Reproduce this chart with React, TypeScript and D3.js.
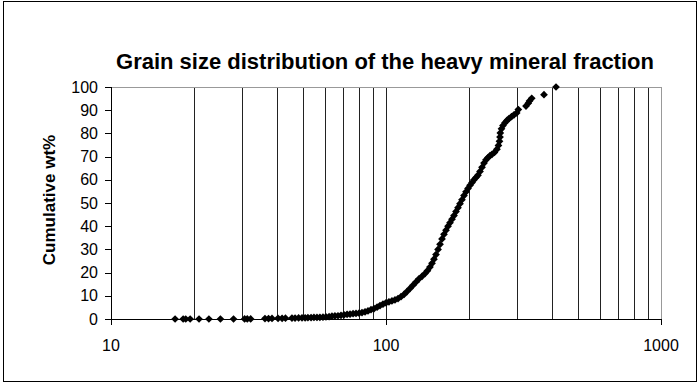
import React from "react";
import * as d3 from "d3";

const title = "Grain size distribution of the heavy mineral fraction";
const yTitle = "Cumulative wt%";
const xTickValues = [10, 100, 1000];
const xGridValues = [20, 30, 40, 50, 60, 70, 80, 90, 100, 200, 300, 400, 500, 600, 700, 800, 900];
const yTickValues = [0, 10, 20, 30, 40, 50, 60, 70, 80, 90, 100];

// grain size (µm)
const grainSize = [
  17.1, 18.3, 18.7, 19.4, 20.9, 22.7, 25.0, 27.9, 30.6, 31.3, 32.2,
  36.3, 37.4, 38.5, 40.5, 41.9, 43.1, 45.5, 46.7, 48.1, 49.5, 50.8, 52.0, 53.4, 54.7, 56.1,
  57.5, 59.0, 60.5, 62.1, 63.6, 65.2, 66.9, 68.6, 70.4, 72.2, 74.0, 75.9, 77.8, 79.8, 81.8,
  83.9, 86.0, 88.2, 90.5, 92.8, 95.1, 97.5, 100, 102.5, 105.1, 107.8, 110.6, 113.4, 116.3,
  119.2, 122.3, 125.4, 128.6, 131.8, 135.2, 138.6, 141.5, 144.5, 147.0, 149.4, 152.0, 154.6,
  157.2, 159.8, 162.5, 165.3, 168.1, 170.9, 173.8, 176.7, 179.7, 182.7, 185.8, 188.9, 192.1,
  195.4, 198.7, 202.1, 205.5, 208.9, 212.5, 216.0, 219.7, 223.4, 227.2, 231.0, 234.9, 238.9,
  242.9, 248.0, 253.2, 256.4, 258.6, 259.7, 260.4, 263.0, 266.3, 270.9, 275.4, 280.1, 286.0,
  292.1, 298.7, 302.8, 322.9, 329.2, 332.5, 338.8, 375.4, 415.2,
];
// cumulative weight percent
const cumulative = [
  0, 0, 0, 0, 0, 0, 0, 0, 0.05, 0.05, 0.05,
  0.2, 0.2, 0.25, 0.3, 0.3, 0.35, 0.4, 0.4, 0.45, 0.5, 0.5, 0.55, 0.6, 0.65, 0.7,
  0.75, 0.8, 0.9, 1.0, 1.2, 1.3, 1.4, 1.6, 1.8, 2.0, 2.1, 2.3, 2.4, 2.5, 2.8,
  3.1, 3.5, 4.0, 4.5, 5.1, 5.8, 6.4, 7.0, 7.4, 7.8, 8.2, 8.8, 9.6, 10.6,
  11.8, 13.2, 14.6, 16.0, 17.3, 18.4, 19.6, 20.8, 22.4, 24.0, 25.8, 27.8, 30.0,
  32.2, 34.5, 36.5, 38.3, 40.0, 41.5, 43.0, 44.6, 46.3, 48.0, 49.7, 51.4, 53.2,
  54.8, 56.3, 57.6, 58.8, 60.0, 61.0, 62.0, 63.6, 65.4, 67.2, 68.6, 69.6, 70.4,
  71.0, 71.8, 73.2, 74.8, 76.6, 78.4, 80.2, 82.0, 83.4, 84.6, 85.6, 86.4, 87.2,
  88.0, 88.8, 90.3, 91.8, 93.0, 94.0, 95.1, 96.7, 100,
];

const W = 700;
const H = 385;
const plot = { left: 111, top: 87, right: 661, bottom: 319 };
const font = "'Liberation Sans', Arial, sans-serif";

export default function App() {
  const x = d3.scaleLog().domain([10, 1000]).range([plot.left, plot.right]);
  const y = d3.scaleLinear().domain([0, 100]).range([plot.bottom, plot.top]);
  const diamond = d3.symbol().type(d3.symbolSquare).size(30)() as string;
  const points = grainSize.map((g, i) => ({ g, c: cumulative[i] }));

  return (
    <svg
      width={W}
      height={H}
      style={{ position: "absolute", left: 0, top: 0, background: "#fff" }}
      fontFamily={font}
    >
      <rect x={0} y={0} width={W} height={H} fill="#fff" />
      <rect x={3.5} y={1.5} width={693} height={380} fill="none" stroke="#000" strokeWidth={1} />
      <text x={385} y={69} textAnchor="middle" fontWeight="bold" fontSize={22}>
        {title}
      </text>
      {/* vertical gridlines */}
      {xGridValues.map((v) => (
        <line
          key={"g" + v}
          x1={Math.round(x(v)) + 0.5}
          x2={Math.round(x(v)) + 0.5}
          y1={plot.top}
          y2={plot.bottom}
          stroke="#222"
          strokeWidth={1}
        />
      ))}
      {/* plot border top/right */}
      <line x1={plot.left} x2={plot.right + 0.5} y1={plot.top + 0.5} y2={plot.top + 0.5} stroke="#999" />
      <line x1={plot.right + 0.5} x2={plot.right + 0.5} y1={plot.top} y2={plot.bottom} stroke="#999" />
      {/* y axis */}
      <line x1={plot.left + 0.5} x2={plot.left + 0.5} y1={plot.top} y2={plot.bottom} stroke="#000" />
      {yTickValues.map((v) => (
        <g key={"y" + v}>
          <line
            x1={plot.left - 6}
            x2={plot.left}
            y1={Math.round(y(v)) + 0.5}
            y2={Math.round(y(v)) + 0.5}
            stroke="#000"
          />
          <text x={98} y={y(v)} textAnchor="end" dominantBaseline="central" fontSize={16}>
            {v}
          </text>
        </g>
      ))}
      {/* x axis */}
      <line x1={plot.left} x2={plot.right + 1} y1={plot.bottom + 0.5} y2={plot.bottom + 0.5} stroke="#000" />
      {xTickValues.map((v) => (
        <g key={"x" + v}>
          <line
            x1={Math.round(x(v)) + 0.5}
            x2={Math.round(x(v)) + 0.5}
            y1={plot.bottom}
            y2={plot.bottom + 6}
            stroke="#000"
          />
          <text x={x(v)} y={351} textAnchor="middle" fontSize={16}>
            {v}
          </text>
        </g>
      ))}
      <text
        transform={`translate(49,200) rotate(-90)`}
        textAnchor="middle"
        dominantBaseline="central"
        fontWeight="bold"
        fontSize={17}
      >
        {yTitle}
      </text>
      {/* data */}
      {points.map((p, i) => (
        <path
          key={i}
          d={diamond}
          transform={`translate(${x(p.g)},${y(p.c)}) rotate(45)`}
          fill="#000"
        />
      ))}
    </svg>
  );
}
